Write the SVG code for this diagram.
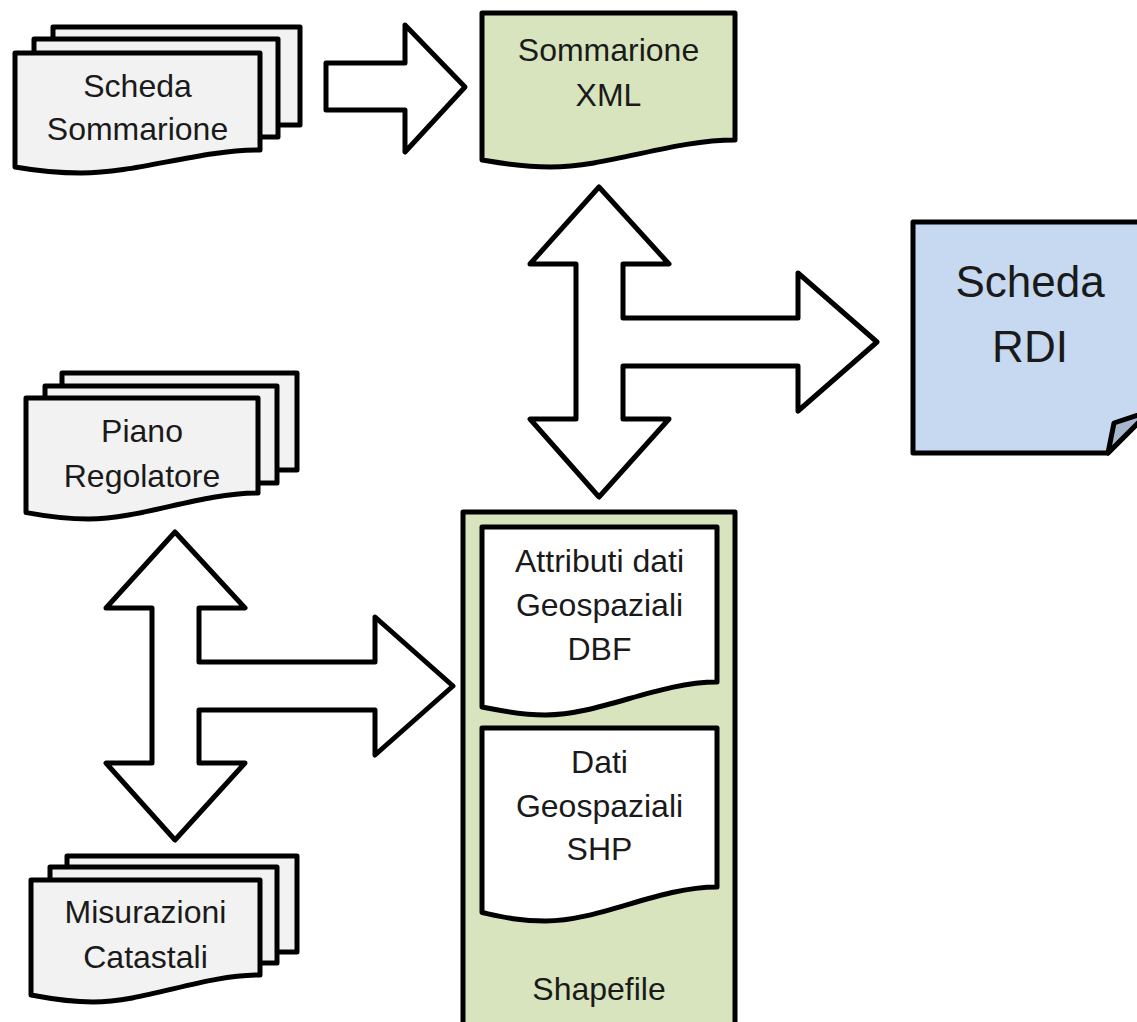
<svg xmlns="http://www.w3.org/2000/svg" width="1137" height="1022" viewBox="0 0 1137 1022">
<style>
  .s { stroke: #000; stroke-width: 5; stroke-linejoin: round; }
  .gray { fill: #f2f2f2; }
  .green { fill: #d7e4bd; }
  .white { fill: #fff; }
  .blue { fill: #c6d9f0; }
  .fold { fill: #a6b6cb; }
  text { font-family: "Liberation Sans", Arial, sans-serif; font-size: 32px; fill: #1a1a1a; text-anchor: middle; }
  .big { font-size: 44px; }
</style>
<rect width="1137" height="1022" fill="#fff"/>

<g id="connectors">
  <path class="s white" d="M326,63 H405 V25 L465,87 L405,152 V110 H326 Z"/>
  <path class="s white" d="M599,187 L669,264 H623 V318 H798 V273 L877,342 L798,411 V366 H623 V419 H669 L599,497 L530,419 H576 V264 H530 Z"/>
  <path class="s white" d="M175,532 L245,608 H199 V662 H375 V617 L453,686 L375,755 V710 H199 V763 H245 L175,840 L106,763 H152 V608 H106 Z"/>
</g>

<g id="scheda-sommarione">
  <rect class="s gray" x="53" y="27" width="247" height="98"/>
  <rect class="s gray" x="34" y="39" width="244" height="98"/>
  <path class="s gray" d="M15,53 H260 V150 C198.75,150 137.5,173 81.15,173 C51.75,173 32.15,170 15,167 Z"/>
  <text x="137.5" y="97">Scheda</text>
  <text x="137.5" y="140">Sommarione</text>
</g>

<g id="sommarione-xml">
  <path class="s green" d="M482,13 H735 V140 C671.75,140 608.5,167 550.3,167 C519.95,167 499.7,163 482,160 Z"/>
  <text x="608.5" y="61">Sommarione</text>
  <text x="608.5" y="106">XML</text>
</g>

<g id="scheda-rdi">
  <path class="s blue" d="M913,222 H1150 V411 L1108,453 H913 Z"/>
  <path class="s fold" d="M1108,453 L1114,423 L1150,411 Z"/>
  <text class="big" x="1030" y="297">Scheda</text>
  <text class="big" x="1030" y="362">RDI</text>
</g>

<g id="piano-regolatore">
  <rect class="s gray" x="62" y="373" width="235" height="97"/>
  <rect class="s gray" x="45" y="386" width="232" height="97"/>
  <path class="s gray" d="M26,398 H258 V493 C200,493 142,519 88.6,519 C60.8,519 42.2,515.5 26,512.5 Z"/>
  <text x="142" y="442">Piano</text>
  <text x="142" y="487">Regolatore</text>
</g>

<g id="misurazioni-catastali">
  <rect class="s gray" x="67" y="856" width="230" height="96"/>
  <rect class="s gray" x="50" y="867" width="227" height="96"/>
  <path class="s gray" d="M31,880 H260 V975 C202.75,975 145.5,1002 92.8,1002 C65.35,1002 47,998 31,995 Z"/>
  <text x="145.5" y="923">Misurazioni</text>
  <text x="145.5" y="968">Catastali</text>
</g>

<g id="shapefile">
  <rect class="s green" x="463" y="512" width="272" height="530"/>
  <text x="599" y="1000">Shapefile</text>
</g>

<g id="dbf">
  <path class="s white" d="M482,527 H717 V682 C658.25,682 599.5,715 545.45,715 C517.25,715 498.45,710 482,707 Z"/>
  <text x="599.5" y="572">Attributi dati</text>
  <text x="599.5" y="616">Geospaziali</text>
  <text x="599.5" y="660">DBF</text>
</g>

<g id="shp">
  <path class="s white" d="M482,728 H717 V887 C658.25,887 599.5,921 545.45,921 C517.25,921 498.45,916 482,912.5 Z"/>
  <text x="599.5" y="773">Dati</text>
  <text x="599.5" y="817">Geospaziali</text>
  <text x="599.5" y="860">SHP</text>
</g>
</svg>
